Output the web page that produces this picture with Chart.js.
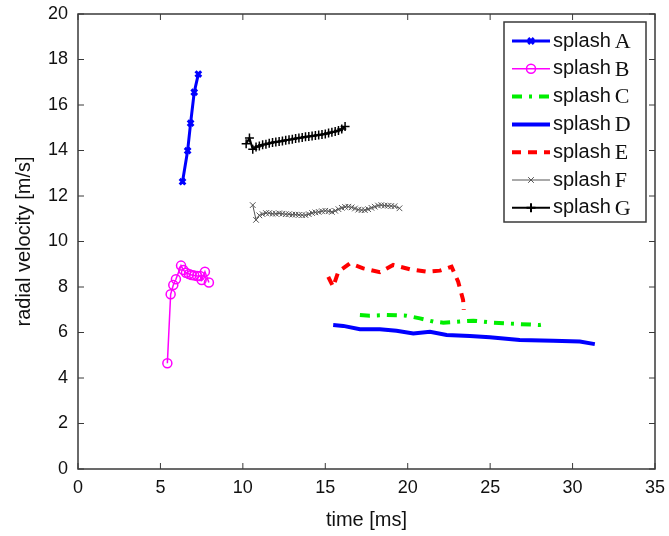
<!DOCTYPE html>
<html id="html">
<head>
<meta charset="utf-8">
<title>radial velocity</title>
<script src="https://cdn.jsdelivr.net/npm/chart.js@4/dist/chart.umd.min.js"></script>
<style>
  html, body { margin: 0; padding: 0; background: #fff; }
  #wrap { width: 669px; height: 536px; }
</style>
</head>
<body>
<div id="wrap"><canvas id="myChart" width="669" height="536"></canvas></div>
<script>
// splash data, time [ms] vs radial velocity [m/s]
const aTime = [6.34, 6.65, 6.83, 7.05, 7.30]
const aVel  = [12.63, 13.99, 15.2, 16.56, 17.36]

const bTime = [5.42, 5.62, 5.78, 5.94, 6.25, 6.39, 6.55, 6.73, 6.89, 7.05, 7.23, 7.40, 7.50, 7.70, 7.94]
const bVel  = [4.65, 7.68, 8.09, 8.34, 8.94, 8.75, 8.63, 8.57, 8.53, 8.51, 8.48, 8.48, 8.31, 8.67, 8.2]

const cTime = [17.1, 17.7, 18.72, 19.93, 20.74, 21.55, 22.16, 23.17, 23.98, 25.19, 26.8, 28.0, 28.4]
const cVel  = [6.77, 6.74, 6.77, 6.74, 6.62, 6.48, 6.43, 6.48, 6.52, 6.43, 6.37, 6.33, 6.37]

const dTime = [15.48, 16.09, 17.1, 18.31, 19.32, 20.34, 21.35, 22.36, 23.77, 24.98, 26.8, 28.82, 30.44, 31.35]
const dVel  = [6.33, 6.29, 6.14, 6.14, 6.08, 5.96, 6.03, 5.89, 5.85, 5.79, 5.67, 5.64, 5.60, 5.49]

const eTime = [15.18, 15.48, 15.79, 16.49, 17.3, 18.31, 19.12, 20.13, 21.15, 21.95, 22.66, 23.06, 23.36, 23.4]
const eVel  = [8.45, 8.01, 8.67, 9.04, 8.82, 8.65, 8.97, 8.78, 8.67, 8.72, 8.89, 8.23, 7.43, 6.99]

const fTime = [10.6, 10.8, 11.0, 11.2, 11.4, 11.6, 11.8, 12.0, 12.2, 12.4, 12.6, 12.8, 13.0, 13.2, 13.4,
  13.6, 13.8, 14.0, 14.2, 14.4, 14.6, 14.8, 15.0, 15.2, 15.4, 15.6, 15.8, 16.0, 16.2, 16.4, 16.6, 16.8,
  17.0, 17.2, 17.4, 17.6, 17.8, 18.0, 18.2, 18.4, 18.6, 18.8, 19.0, 19.2, 19.5]
const fVel  = [11.6, 10.95, 11.15, 11.2, 11.25, 11.25, 11.22, 11.22, 11.24, 11.22, 11.2, 11.2, 11.18, 11.18, 11.17,
  11.16, 11.16, 11.2, 11.25, 11.28, 11.3, 11.33, 11.35, 11.33, 11.3, 11.35, 11.42, 11.48, 11.52, 11.53, 11.5, 11.45,
  11.4, 11.38, 11.38, 11.42, 11.48, 11.53, 11.58, 11.6, 11.58, 11.57, 11.56, 11.55, 11.46]

const gTime = [10.2, 10.4, 10.6, 10.8, 11.0, 11.2, 11.4, 11.6, 11.8, 12.0, 12.2, 12.4, 12.6, 12.8, 13.0, 13.2,
  13.4, 13.6, 13.8, 14.0, 14.2, 14.4, 14.6, 14.8, 15.0, 15.2, 15.4, 15.6, 15.8, 16.0, 16.2]
const gVel  = [14.3, 14.55, 14.05, 14.15, 14.2, 14.25, 14.28, 14.32, 14.35, 14.37, 14.4, 14.42, 14.45, 14.47, 14.5, 14.53,
  14.55, 14.57, 14.6, 14.62, 14.64, 14.66, 14.68, 14.7, 14.73, 14.77, 14.8, 14.83, 14.88, 14.95, 15.05]

const xTicks = [0, 5, 10, 15, 20, 25, 30, 35]
const yTicks = [0, 2, 4, 6, 8, 10, 12, 14, 16, 18, 20]
const seriesNames = ['A', 'B', 'C', 'D', 'E', 'F', 'G']

const pts = (xs, ys) => xs.map((x, i) => ({ x: x, y: ys[i] }))

// matlab style box with inward ticks
const framePlugin = {
  id: 'frame',
  afterDatasetsDraw(chart) {
    const { ctx, chartArea: a, scales } = chart
    ctx.save()
    ctx.strokeStyle = '#3a3a3a'
    ctx.lineWidth = 1.5
    ctx.setLineDash([])
    ctx.strokeRect(a.left, a.top, a.right - a.left, a.bottom - a.top)
    ctx.lineWidth = 1
    const len = 6
    xTicks.forEach(v => {
      const px = scales.x.getPixelForValue(v)
      ctx.beginPath()
      ctx.moveTo(px, a.bottom); ctx.lineTo(px, a.bottom - len)
      ctx.moveTo(px, a.top); ctx.lineTo(px, a.top + len)
      ctx.stroke()
    })
    yTicks.forEach(v => {
      const py = scales.y.getPixelForValue(v)
      ctx.beginPath()
      ctx.moveTo(a.left, py); ctx.lineTo(a.left + len, py)
      ctx.moveTo(a.right, py); ctx.lineTo(a.right - len, py)
      ctx.stroke()
    })
    ctx.restore()
  }
}

// legend: "splash" sans, letter serif
const legendPlugin = {
  id: 'splashLegend',
  afterDraw(chart) {
    const ctx = chart.ctx
    ctx.save()
    ctx.fillStyle = '#fff'
    ctx.fillRect(504, 22, 142, 200)
    ctx.strokeStyle = '#3a3a3a'
    ctx.lineWidth = 1.5
    ctx.strokeRect(504, 22, 142, 200)
    chart.data.datasets.forEach((ds, i) => {
      const y = 41 + i * 27.8
      ctx.strokeStyle = ds.borderColor
      ctx.lineWidth = ds.borderWidth
      ctx.setLineDash(ds.borderDash || [])
      ctx.beginPath()
      ctx.moveTo(512, y); ctx.lineTo(550, y)
      ctx.stroke()
      ctx.setLineDash([])
      if (ds.pointRadius > 0) {
        ctx.strokeStyle = ds.pointBorderColor || ds.borderColor
        ctx.fillStyle = 'rgba(0,0,0,0)'
        Chart.helpers.drawPoint(ctx, {
          pointStyle: ds.pointStyle, radius: ds.pointRadius,
          borderWidth: ds.pointBorderWidth, rotation: 0
        }, 531, y)
      }
      ctx.fillStyle = '#111'
      ctx.textBaseline = 'middle'
      ctx.font = '20px "Liberation Sans", Arial, sans-serif'
      ctx.fillText('splash', 553, y)
      const w = ctx.measureText('splash').width
      ctx.font = '22px "Liberation Serif", "Times New Roman", serif'
      ctx.fillText(seriesNames[i], 553 + w + 4, y + 1)
    })
    ctx.restore()
  }
}

const ctx = document.getElementById('myChart')
const myChart = new Chart(ctx, {
  type: 'scatter',
  data: {
    datasets: [{
      label: 'splash A', data: pts(aTime, aVel), showLine: true,
      borderColor: '#0000ff', borderWidth: 3,
      pointStyle: 'crossRot', pointRadius: 4, pointBorderWidth: 3, pointBorderColor: '#0000ff'
    }, {
      label: 'splash B', data: pts(bTime, bVel), showLine: true,
      borderColor: '#ff00ff', borderWidth: 1.5,
      pointStyle: 'circle', pointRadius: 4.5, pointBorderWidth: 1.5, pointBorderColor: '#ff00ff',
      pointBackgroundColor: 'rgba(0,0,0,0)'
    }, {
      label: 'splash C', data: pts(cTime, cVel), showLine: true,
      borderColor: '#00ee00', borderWidth: 4, borderDash: [10, 7, 3, 7],
      pointRadius: 0
    }, {
      label: 'splash D', data: pts(dTime, dVel), showLine: true,
      borderColor: '#0000ff', borderWidth: 4,
      pointRadius: 0
    }, {
      label: 'splash E', data: pts(eTime, eVel), showLine: true,
      borderColor: '#ff0000', borderWidth: 4, borderDash: [9, 7],
      pointRadius: 0
    }, {
      label: 'splash F', data: pts(fTime, fVel), showLine: true,
      borderColor: '#555555', borderWidth: 1,
      pointStyle: 'crossRot', pointRadius: 4, pointBorderWidth: 1, pointBorderColor: '#555555'
    }, {
      label: 'splash G', data: pts(gTime, gVel), showLine: true,
      borderColor: '#000000', borderWidth: 2,
      pointStyle: 'cross', pointRadius: 4.5, pointBorderWidth: 1.5, pointBorderColor: '#000000'
    }]
  },
  options: {
    responsive: false,
    animation: false,
    layout: { padding: { top: 14, right: 14, left: 0, bottom: 0 } },
    plugins: {
      legend: { display: false },
      tooltip: { enabled: false }
    },
    scales: {
      x: {
        type: 'linear', min: 0, max: 35,
        afterBuildTicks: s => { s.ticks = xTicks.map(v => ({ value: v })) },
        afterFit: s => { s.height = 67; s.paddingLeft = 0; s.paddingRight = 0 },
        grid: { display: false, drawTicks: false },
        border: { display: false },
        ticks: { padding: 8, color: '#111', font: { family: '"Liberation Sans", Arial, sans-serif', size: 18 } },
        title: {
          display: true, text: 'time [ms]', color: '#111',
          font: { family: '"Liberation Sans", Arial, sans-serif', size: 20 },
          padding: { top: 0, bottom: 4 }
        }
      },
      y: {
        type: 'linear', min: 0, max: 20,
        afterBuildTicks: s => { s.ticks = yTicks.map(v => ({ value: v })) },
        afterFit: s => { s.width = 78; s.paddingTop = 0; s.paddingBottom = 0 },
        grid: { display: false, drawTicks: false },
        border: { display: false },
        ticks: { padding: 10, color: '#111', font: { family: '"Liberation Sans", Arial, sans-serif', size: 18 } },
        title: {
          display: true, text: 'radial velocity [m/s]', color: '#111',
          font: { family: '"Liberation Sans", Arial, sans-serif', size: 20 },
          padding: { top: 12, bottom: 0 }
        }
      }
    }
  },
  plugins: [framePlugin, legendPlugin]
})
</script>
</body>
</html>
